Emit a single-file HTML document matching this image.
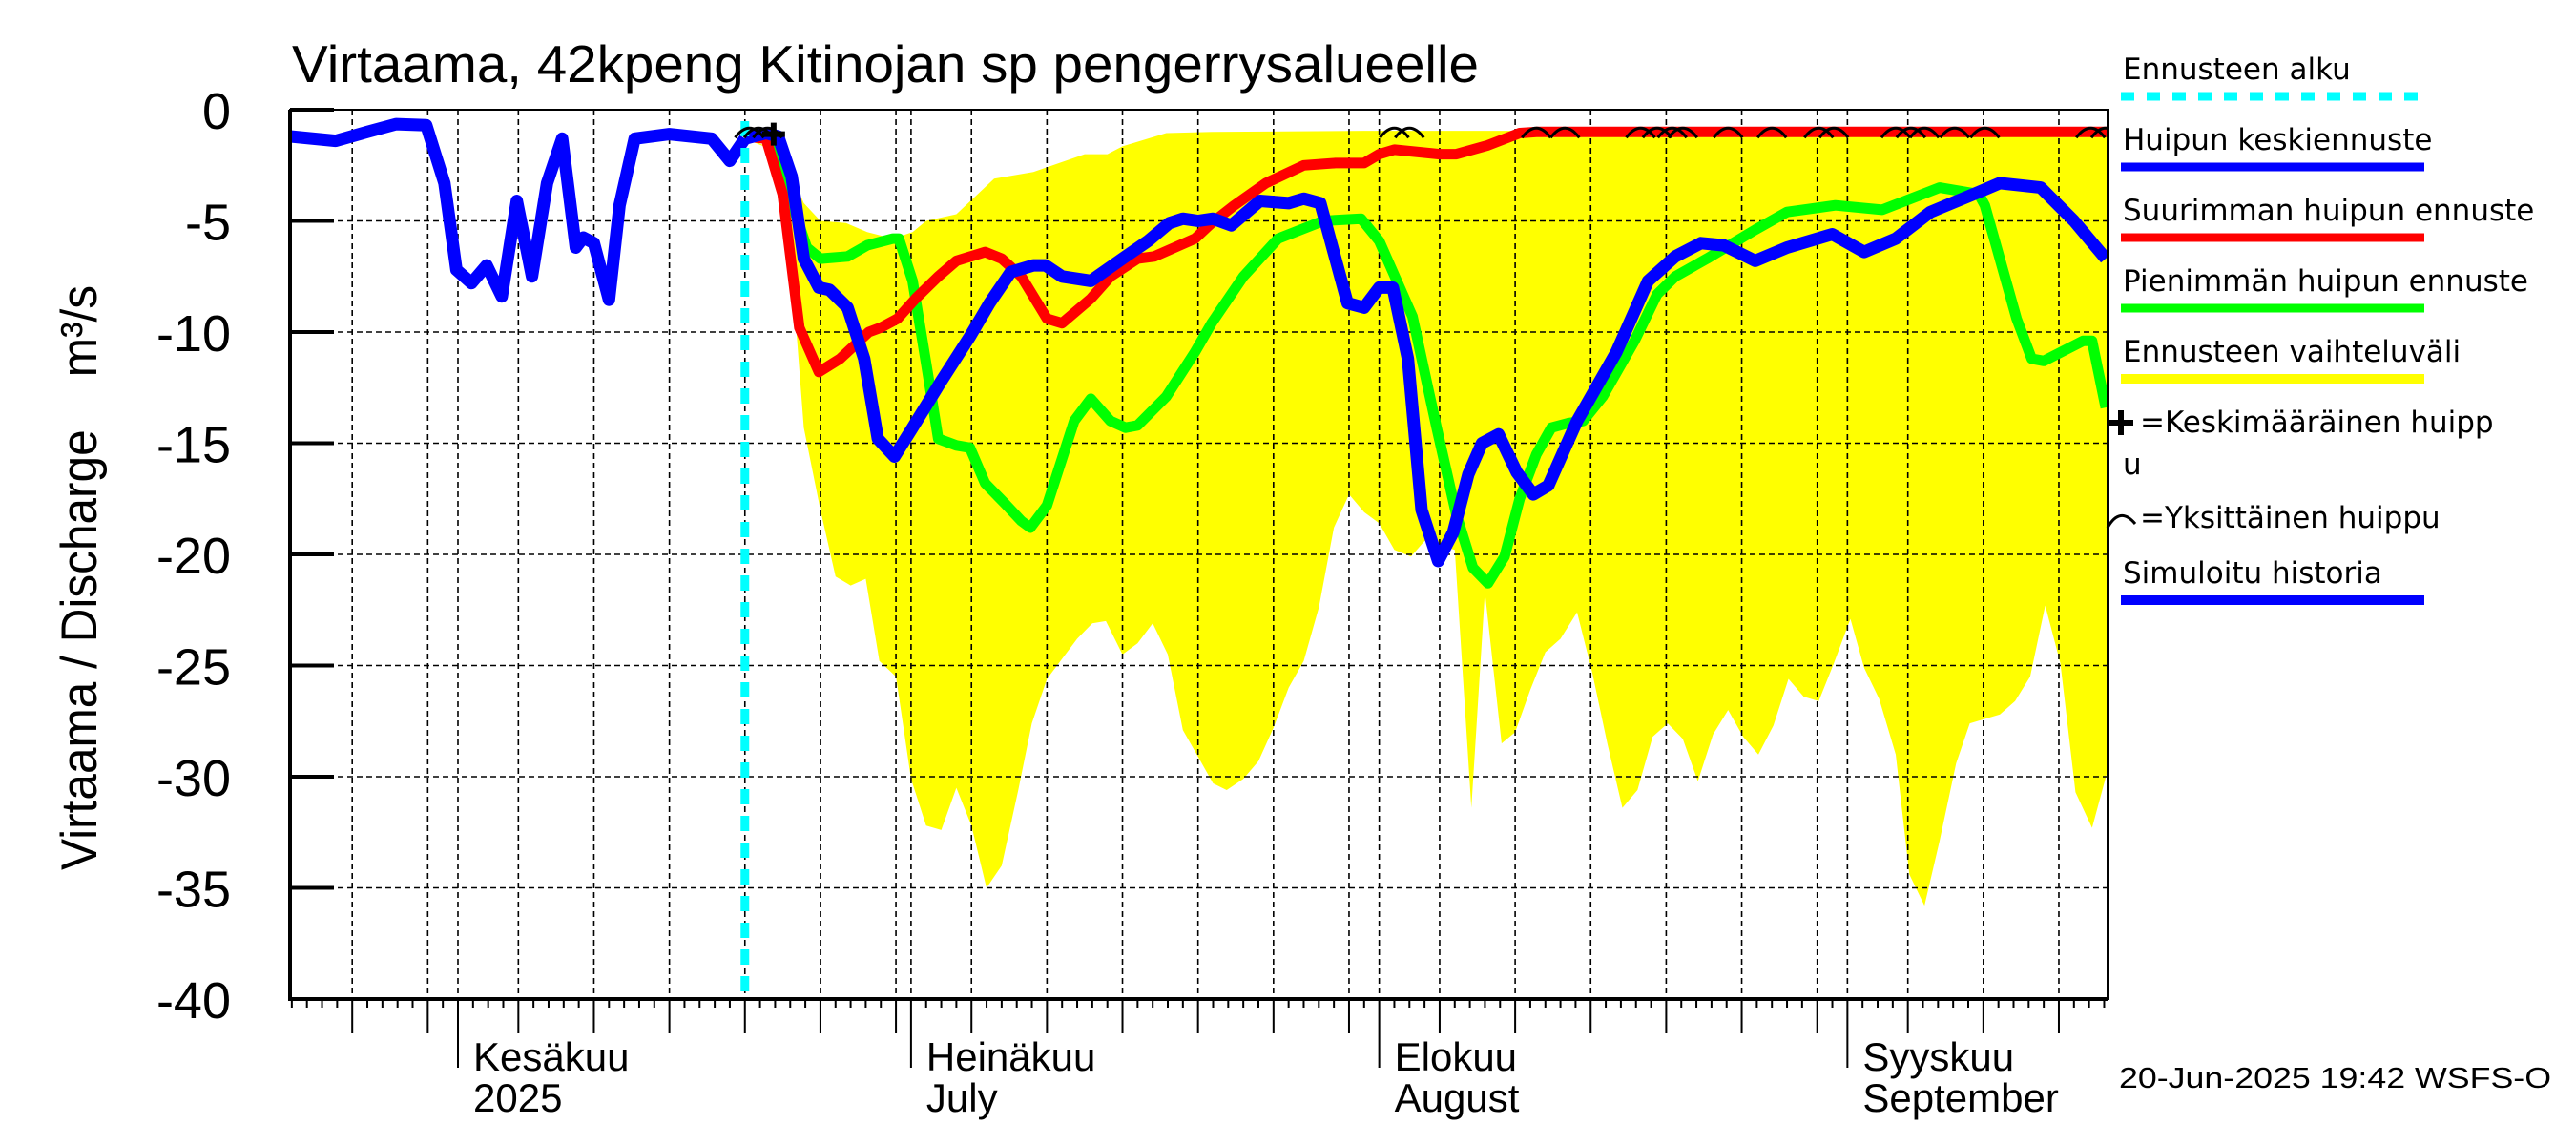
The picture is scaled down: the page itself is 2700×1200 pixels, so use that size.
<!DOCTYPE html>
<html><head><meta charset="utf-8"><style>
html,body{margin:0;padding:0;background:#fff;}
svg{display:block;}
text{font-family:"Liberation Sans",sans-serif;fill:#000;}
.leg{font-family:"DejaVu Sans","Liberation Sans",sans-serif;font-size:31px;}
</style></head><body>
<svg id="chart" width="2700" height="1200" viewBox="0 0 2700 1200" xmlns="http://www.w3.org/2000/svg">
<defs><clipPath id="pc"><rect x="304" y="115" width="1905" height="932"/></clipPath></defs>
<text x="306" y="86" font-size="55" textLength="1244" lengthAdjust="spacingAndGlyphs">Virtaama, 42kpeng Kitinojan sp pengerrysalueelle</text>
<text transform="translate(101,912) rotate(-90)" font-size="53" textLength="613" lengthAdjust="spacingAndGlyphs">Virtaama / Discharge&#160;&#160;&#160;&#160;m³/s</text>
<g id="band" clip-path="url(#pc)"></g>
<g id="grid"></g>
<g id="series" clip-path="url(#pc)"></g>
<g id="axes"></g>
<g id="legend">
<text class="leg" x="2225" y="83">Ennusteen alku</text>
<line x1="2223" y1="101" x2="2541" y2="101" stroke="#00ffff" stroke-width="9" stroke-dasharray="14,13"/>
<text class="leg" x="2225" y="157">Huipun keskiennuste</text>
<line x1="2223" y1="175" x2="2541" y2="175" stroke="#0000ff" stroke-width="9"/>
<text class="leg" x="2225" y="231">Suurimman huipun ennuste</text>
<line x1="2223" y1="249" x2="2541" y2="249" stroke="#ff0000" stroke-width="9"/>
<text class="leg" x="2225" y="305">Pienimmän huipun ennuste</text>
<line x1="2223" y1="323" x2="2541" y2="323" stroke="#00ff00" stroke-width="9"/>
<text class="leg" x="2225" y="379">Ennusteen vaihteluväli</text>
<line x1="2223" y1="397" x2="2541" y2="397" stroke="#ffff00" stroke-width="10"/>
<path d="M2210 443 h26 M2223 430 v26" stroke="#000" stroke-width="6"/>
<text class="leg" x="2243" y="453">=Keskimääräinen huipp</text>
<text class="leg" x="2225" y="497">u</text>
<path d="M2209 553 Q2222 530 2238 549" fill="none" stroke="#000" stroke-width="3"/>
<text class="leg" x="2243" y="553">=Yksittäinen huippu</text>
<text class="leg" x="2225" y="611">Simuloitu historia</text>
<line x1="2223" y1="629" x2="2541" y2="629" stroke="#0000ff" stroke-width="10"/>
</g>
<text x="2221" y="1140" font-size="31" textLength="453" lengthAdjust="spacingAndGlyphs">20-Jun-2025 19:42 WSFS-O</text>
</svg>
<script>
// day offsets from 1 June 2025; values in m3/s
const histDays=[-11.1,-8.1,-6,-4.1,-2.1,-0.9,-0.1,0.9,1.9,2.9,3.9,4.9,5.9,6.9,7.8,8.3,9,10,10.7,11.7,14,16.8,18,19];
const histVals=[-1.2,-1.4,-1.0,-0.65,-0.7,-3.3,-7.2,-7.8,-7.0,-8.4,-4.1,-7.5,-3.3,-1.3,-6.2,-5.75,-6.0,-8.55,-4.3,-1.3,-1.1,-1.3,-2.3,-1.3];
const upDays=[19,21.5,22.9,24,25.7,27.1,28.8,30.1,31,33,35.5,38.1,41.5,43,44,46.9,49.9,60,109.2];
const upVals=[-1.2,-2.0,-4.2,-5.0,-5.1,-5.5,-5.8,-5.5,-5.0,-4.7,-3.1,-2.8,-2.0,-2.0,-1.65,-1.05,-1.0,-0.95,-0.95];
const loDays=[19,21.5,22.1,22.9,24,25,26,27,27.9,29,30,31,32,33,34,35,36,37.1,38,39,41,42,42.9,44,45,46,47,48,49,50,50.9,52,53,54,55,56,57,58,59,60,61,62,63.1,64,66,67.1,68,69.1,70,71,72,73,74.1,75.1,76.1,77.1,78.1,79.1,80.1,81.1,82.1,83.1,84.1,85.1,86.1,87.1,88.1,89.1,90.1,91.1,92.2,93.1,94.1,95.2,96.1,97.1,98.1,99.2,100.1,102.1,103.1,104.1,105.1,106.1,107.1,108.2,109.2];
const loVals=[-1.3,-2.0,-7.2,-14.3,-18.0,-21.0,-21.4,-21.1,-24.8,-25.5,-30.1,-32.2,-32.4,-30.5,-32.2,-35.0,-34.0,-30.6,-27.6,-25.6,-23.8,-23.1,-23.0,-24.5,-24.0,-23.1,-24.5,-27.9,-29.1,-30.3,-30.6,-30.1,-29.3,-27.8,-26.0,-24.8,-22.4,-18.8,-17.3,-18.1,-18.6,-19.8,-20.1,-19.4,-19.8,-31.4,-21.7,-28.5,-28.0,-26.1,-24.4,-23.8,-22.6,-25.3,-28.5,-31.4,-30.6,-28.2,-27.6,-28.3,-30.2,-28.1,-27.0,-28.2,-29.0,-27.7,-25.6,-26.4,-26.6,-24.9,-22.9,-25.1,-26.5,-29.0,-34.4,-35.8,-32.9,-29.4,-27.6,-27.2,-26.6,-25.5,-22.3,-24.9,-30.7,-32.3,-29.8];
const redDays=[19,20.4,21.5,22.6,23.9,25.3,27.2,28,29.1,30.3,31.8,33,34.9,36,37.3,39,40,41.9,43.2,45,46.1,48.8,49.9,51.4,53.5,56,58.1,60,61,62,65,66.1,68.2,70.3,71.4,109.2];
const redVals=[-1.2,-1.3,-3.8,-9.8,-11.8,-11.2,-10,-9.8,-9.4,-8.5,-7.5,-6.8,-6.4,-6.7,-7.5,-9.4,-9.6,-8.5,-7.5,-6.7,-6.6,-5.8,-5.1,-4.3,-3.3,-2.5,-2.4,-2.4,-2.0,-1.8,-2.0,-2.0,-1.6,-1.05,-1.0,-1.0];
const blueDays=[19,20.4,21.2,22.1,22.9,23.9,24.6,25.8,26.9,27.8,28.9,30.1,32,33.9,35.2,36.6,38.1,38.9,40,41.9,44,45.7,47.1,48,49,50,51.2,53.1,55,56,57.1,58.9,60,61,61.9,62.9,63.8,64.9,65.9,66.9,67.8,68.9,70.1,71.2,72.2,74.1,76.7,78.8,80.6,82.3,83.8,85.9,88,91,93.1,95.2,97.5,100.7,102.1,104.8,107,109.1];
const blueVals=[-1.3,-1.05,-1.2,-3.0,-6.7,-8.0,-8.1,-8.9,-11.2,-14.8,-15.6,-14.3,-12.2,-10.2,-8.7,-7.3,-7.0,-7.0,-7.5,-7.7,-6.7,-5.9,-5.1,-4.9,-5.0,-4.9,-5.2,-4.1,-4.2,-4.0,-4.2,-8.7,-8.9,-8.0,-8.0,-11.2,-18.0,-20.3,-19.0,-16.4,-15.0,-14.6,-16.3,-17.3,-16.9,-14.0,-10.9,-7.7,-6.6,-6.0,-6.1,-6.8,-6.2,-5.6,-6.4,-5.8,-4.6,-3.7,-3.3,-3.5,-5.0,-6.7];
const greenDays=[19,20.4,21.5,23.1,24,25.8,27.1,28.8,29.2,30.1,31,31.8,33,33.9,34.9,36.2,37.3,37.9,39,40.8,41.9,43.2,44.2,45,46.9,48.8,49.9,52,54.3,57.3,59.8,61,63.2,64.8,66.1,67.2,68.2,69.3,70.3,71.4,72.4,73.5,74.5,75.8,77.9,79.4,80.6,82.7,85.9,88,91.2,94.3,98.1,100.7,101.1,103.2,104.2,105,107.6,108.2,109.1];
const greenVals=[-1.3,-1.1,-3.0,-6.2,-6.7,-6.6,-6.1,-5.8,-5.8,-7.7,-11.4,-14.8,-15.1,-15.2,-16.8,-17.7,-18.5,-18.8,-17.8,-14.0,-13.0,-14.0,-14.3,-14.2,-12.9,-10.9,-9.6,-7.5,-5.8,-5.0,-4.9,-5.9,-9.3,-14.3,-18.2,-20.6,-21.3,-20.1,-17.5,-15.5,-14.3,-14.1,-14.0,-12.9,-10.4,-8.3,-7.5,-6.7,-5.4,-4.6,-4.3,-4.5,-3.5,-3.8,-4.3,-9.4,-11.2,-11.3,-10.4,-10.4,-13.4];
const peakDays=[19.3,19.9,20.5,62,63,71.4,73.3,78.3,79.4,80.4,81.1,84.1,87,90.1,91.1,95.2,96.2,97.1,99.1,101.1,108.1,109.1];
const peakVals=[-1.0,-1.0,-1.0,-1.0,-1.0,-1.0,-1.0,-1.0,-1.0,-1.0,-1.0,-1.0,-1.0,-1.0,-1.0,-1.0,-1.0,-1.0,-1.0,-1.0,-1.0,-1.0];
const meanPeakDay=[20.9];
const meanPeakVal=[-1.1];
const forecastStartDay=[19];
const yTicks=[0,-5,-10,-15,-20,-25,-30,-35,-40];
const monthNames=["Kesäkuu","Heinäkuu","Elokuu","Syyskuu"];
const monthSub=["2025","July","August","September"];
const monthStartDays=[0,30,61,92];

const NS="http://www.w3.org/2000/svg";
const X0=304,X1=2209,Y0=115,Y1=1047;
const xs=d=>480+d*15.83;
const ys=v=>Y0+(-v)/40*(Y1-Y0);
function mk(tag,attrs,parent){const e=document.createElementNS(NS,tag);for(const k in attrs)e.setAttribute(k,attrs[k]);parent.appendChild(e);return e;}
const band=document.getElementById('band'),grid=document.getElementById('grid'),ser=document.getElementById('series'),axes=document.getElementById('axes');

let pts=[];
for(let i=0;i<upDays.length;i++)pts.push(xs(upDays[i]).toFixed(1)+','+ys(upVals[i]).toFixed(1));
for(let i=loDays.length-1;i>=0;i--)pts.push(xs(loDays[i]).toFixed(1)+','+ys(loVals[i]).toFixed(1));
const bp=mk('polygon',{points:pts.join(' '),fill:'#ffff00'},band);



yTicks.forEach(v=>{
 if(v!==0&&v!==-40){const l=mk('line',{x1:X0,x2:X1,y1:ys(v),y2:ys(v),stroke:'#000','stroke-width':1.6,'stroke-dasharray':'6,4'},grid);
 
 }
});
const dayStartMonth=[-31,0,30,61,92,122];
const lens=[31,30,31,31,30,31];
for(let m=0;m<dayStartMonth.length;m++){
 for(let dom=1;dom<=lens[m];dom++){
  const d=dayStartMonth[m]+dom-1;
  const x=xs(d);
  if(x<X0-0.5||x>X1+0.5)continue;
  let len=9;
  if(dom===1)len=72;else if(dom%5===0)len=36;
  const t=mk('line',{x1:x,x2:x,y1:Y1,y2:Y1+len,stroke:'#000','stroke-width':2},axes);
  
  
  if(dom===1||dom%5===0){
   const g=mk('line',{x1:x,x2:x,y1:Y0,y2:Y1,stroke:'#000','stroke-width':1.6,'stroke-dasharray':'6,4'},grid);
   
   
  }
 }
}
function line(days,vals,color,w,name){
 const p=days.map((d,i)=>xs(d).toFixed(1)+','+ys(vals[i]).toFixed(1)).join(' ');
 const e=mk('polyline',{points:p,fill:'none',stroke:color,'stroke-width':w,'stroke-linejoin':'round'},ser);
 
 
}
line(greenDays,greenVals,'#00ff00',11,'min-peak-forecast-line');
line(redDays,redVals,'#ff0000',11,'max-peak-forecast-line');
line(histDays,histVals,'#0000ff',13,'simulated-history-line');
line(blueDays,blueVals,'#0000ff',13,'mean-peak-forecast-line');
forecastStartDay.forEach(d=>{
 const c=mk('line',{x1:xs(d),x2:xs(d),y1:Y0+12,y2:Y1,stroke:'#00ffff','stroke-width':9,'stroke-dasharray':'16,12'},ser);
 
 
});
peakDays.forEach((d,i)=>{
 const x=xs(d),y=ys(peakVals[i]);
 const a=mk('path',{d:`M${x-15} ${y+6} Q${x} ${y-14} ${x+15} ${y+6}`,fill:'none',stroke:'#000','stroke-width':3},ser);
 
 
});
meanPeakDay.forEach((d,i)=>{
 const x=xs(d),y=ys(meanPeakVal[i]);
 const p=mk('path',{d:`M${x-12} ${y} h24 M${x} ${y-12} v24`,stroke:'#000','stroke-width':6},ser);
 
 
});
const fr=mk('rect',{x:X0,y:Y0,width:X1-X0,height:Y1-Y0,fill:'none',stroke:'#000','stroke-width':2},axes);


const la=mk('line',{x1:X0,x2:X0,y1:Y0,y2:Y1+2,stroke:'#000','stroke-width':4},axes);


const ba=mk('line',{x1:X0,x2:X1,y1:Y1,y2:Y1,stroke:'#000','stroke-width':4},axes);


yTicks.forEach(v=>{
 const y=ys(v);
 const t=mk('line',{x1:X0,x2:X0+46,y1:y,y2:y,stroke:'#000','stroke-width':4},axes);
 
 
 const tx=mk('text',{x:242,y:y+20,'font-size':54,'text-anchor':'end'},axes);
 tx.textContent=String(v);
 
 
});
monthStartDays.forEach((d,i)=>{
 const x=xs(d)+16;
 const a=mk('text',{x:x,y:1122,'font-size':42},axes);
 a.textContent=monthNames[i];
 
 
 const b=mk('text',{x:x,y:1165,'font-size':42},axes);
 b.textContent=monthSub[i];
 
 
});
</script>
</body></html>
